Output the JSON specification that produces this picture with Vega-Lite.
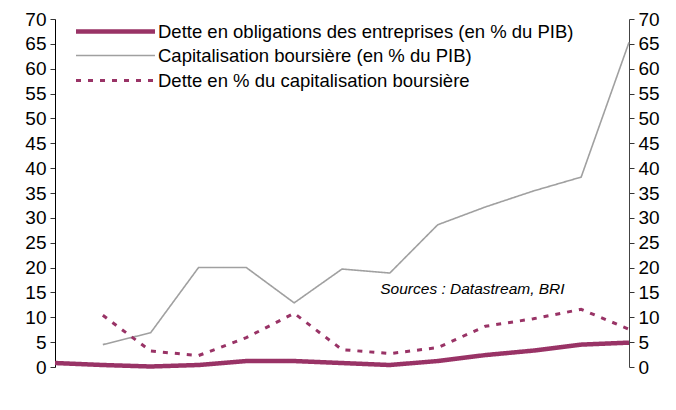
{
  "$schema": "https://vega.github.io/schema/vega-lite/v6.json",
  "width": 574,
  "height": 348,
  "autosize": "none",
  "padding": {"left": 55, "top": 19, "right": 47, "bottom": 43},
  "config": {"view": {"stroke": null}, "font": "Liberation Sans"},
  "datasets": {
    "series": [
      {"year": 1994, "series": "Dette en obligations des entreprises (en % du PIB)", "value": 0.8},
      {"year": 1995, "series": "Dette en obligations des entreprises (en % du PIB)", "value": 0.4},
      {"year": 1996, "series": "Dette en obligations des entreprises (en % du PIB)", "value": 0.1},
      {"year": 1997, "series": "Dette en obligations des entreprises (en % du PIB)", "value": 0.4},
      {"year": 1998, "series": "Dette en obligations des entreprises (en % du PIB)", "value": 1.2},
      {"year": 1999, "series": "Dette en obligations des entreprises (en % du PIB)", "value": 1.2},
      {"year": 2000, "series": "Dette en obligations des entreprises (en % du PIB)", "value": 0.8},
      {"year": 2001, "series": "Dette en obligations des entreprises (en % du PIB)", "value": 0.4},
      {"year": 2002, "series": "Dette en obligations des entreprises (en % du PIB)", "value": 1.2},
      {"year": 2003, "series": "Dette en obligations des entreprises (en % du PIB)", "value": 2.4},
      {"year": 2004, "series": "Dette en obligations des entreprises (en % du PIB)", "value": 3.3},
      {"year": 2005, "series": "Dette en obligations des entreprises (en % du PIB)", "value": 4.5},
      {"year": 2006, "series": "Dette en obligations des entreprises (en % du PIB)", "value": 4.9},
      {"year": 1995, "series": "Capitalisation boursière (en % du PIB)", "value": 4.5},
      {"year": 1996, "series": "Capitalisation boursière (en % du PIB)", "value": 6.9},
      {"year": 1997, "series": "Capitalisation boursière (en % du PIB)", "value": 20.0},
      {"year": 1998, "series": "Capitalisation boursière (en % du PIB)", "value": 20.0},
      {"year": 1999, "series": "Capitalisation boursière (en % du PIB)", "value": 12.9},
      {"year": 2000, "series": "Capitalisation boursière (en % du PIB)", "value": 19.7},
      {"year": 2001, "series": "Capitalisation boursière (en % du PIB)", "value": 18.9},
      {"year": 2002, "series": "Capitalisation boursière (en % du PIB)", "value": 28.6},
      {"year": 2003, "series": "Capitalisation boursière (en % du PIB)", "value": 32.2},
      {"year": 2004, "series": "Capitalisation boursière (en % du PIB)", "value": 35.4},
      {"year": 2005, "series": "Capitalisation boursière (en % du PIB)", "value": 38.2},
      {"year": 2006, "series": "Capitalisation boursière (en % du PIB)", "value": 65.3},
      {"year": 1995, "series": "Dette en % du capitalisation boursière", "value": 10.4},
      {"year": 1996, "series": "Dette en % du capitalisation boursière", "value": 3.2},
      {"year": 1997, "series": "Dette en % du capitalisation boursière", "value": 2.3},
      {"year": 1998, "series": "Dette en % du capitalisation boursière", "value": 5.9},
      {"year": 1999, "series": "Dette en % du capitalisation boursière", "value": 10.8},
      {"year": 2000, "series": "Dette en % du capitalisation boursière", "value": 3.5},
      {"year": 2001, "series": "Dette en % du capitalisation boursière", "value": 2.7},
      {"year": 2002, "series": "Dette en % du capitalisation boursière", "value": 3.9},
      {"year": 2003, "series": "Dette en % du capitalisation boursière", "value": 8.2},
      {"year": 2004, "series": "Dette en % du capitalisation boursière", "value": 9.7},
      {"year": 2005, "series": "Dette en % du capitalisation boursière", "value": 11.6},
      {"year": 2006, "series": "Dette en % du capitalisation boursière", "value": 7.6}
    ],
    "notes": [
      {"year": 2000.8, "value": 15.6, "note": "Sources :  Datastream, BRI"}
    ]
  },
  "layer": [
    {
      "data": {"name": "series"},
      "mark": {"type": "line", "strokeCap": "butt"},
      "encoding": {
        "x": {
          "field": "year", "type": "quantitative",
          "scale": {"domain": [1994, 2006], "nice": false, "zero": false},
          "axis": {
            "values": [1994, 1995, 1996, 1997, 1998, 1999, 2000, 2001, 2002, 2003, 2004, 2005, 2006],
            "labelExpr": "slice(toString(datum.value), 2)",
            "title": null, "grid": false, "labelFlush": false,
            "domainColor": "#000000", "tickColor": "#555555", "tickSize": 5,
            "labelFontSize": 19, "labelColor": "#000000", "labelPadding": 7
          }
        },
        "y": {
          "field": "value", "type": "quantitative",
          "scale": {"domain": [0, 70], "nice": false},
          "axis": {
            "orient": "left",
            "values": [0, 5, 10, 15, 20, 25, 30, 35, 40, 45, 50, 55, 60, 65, 70],
            "title": null, "grid": false,
            "domainColor": "#000000", "tickColor": "#333333", "tickSize": 5,
            "labelFontSize": 19, "labelColor": "#000000", "labelPadding": 4
          }
        },
        "color": {
          "field": "series", "type": "nominal",
          "scale": {
            "domain": ["Dette en obligations des entreprises (en % du PIB)", "Capitalisation boursière (en % du PIB)", "Dette en % du capitalisation boursière"],
            "range": ["#993366", "#A0A0A0", "#993366"]
          },
          "legend": {
            "title": null, "orient": "none", "legendX": 48, "legendY": 0,
            "symbolType": "M-4,0H4", "symbolSize": 390, "labelFontSize": 18.5,
            "labelColor": "#000000", "labelOffset": 30, "rowPadding": 3.5, "padding": 0,
            "labelLimit": 0
          }
        },
        "strokeDash": {
          "field": "series", "type": "nominal",
          "scale": {
            "domain": ["Dette en obligations des entreprises (en % du PIB)", "Capitalisation boursière (en % du PIB)", "Dette en % du capitalisation boursière"],
            "range": [[1, 0], [1, 0], [5, 7]]
          }
        },
        "strokeWidth": {
          "field": "series", "type": "nominal",
          "scale": {
            "type": "ordinal",
            "domain": ["Dette en obligations des entreprises (en % du PIB)", "Capitalisation boursière (en % du PIB)", "Dette en % du capitalisation boursière"],
            "range": [4.5, 1.6, 3]
          }
        }
      }
    },
    {
      "data": {"name": "notes"},
      "mark": {"type": "text", "fontStyle": "italic", "fontSize": 15.5, "align": "left", "baseline": "middle", "color": "#000000"},
      "encoding": {
        "x": {"field": "year", "type": "quantitative", "axis": null},
        "y": {
          "field": "value", "type": "quantitative",
          "scale": {"domain": [0, 70], "nice": false},
          "axis": {
            "orient": "right",
            "values": [0, 5, 10, 15, 20, 25, 30, 35, 40, 45, 50, 55, 60, 65, 70],
            "title": null, "grid": false,
            "domainColor": "#444444", "tickColor": "#333333", "tickSize": 5,
            "labelFontSize": 19, "labelColor": "#000000", "labelPadding": 4
          }
        },
        "text": {"field": "note"}
      }
    }
  ],
  "resolve": {"scale": {"y": "independent"}}
}
